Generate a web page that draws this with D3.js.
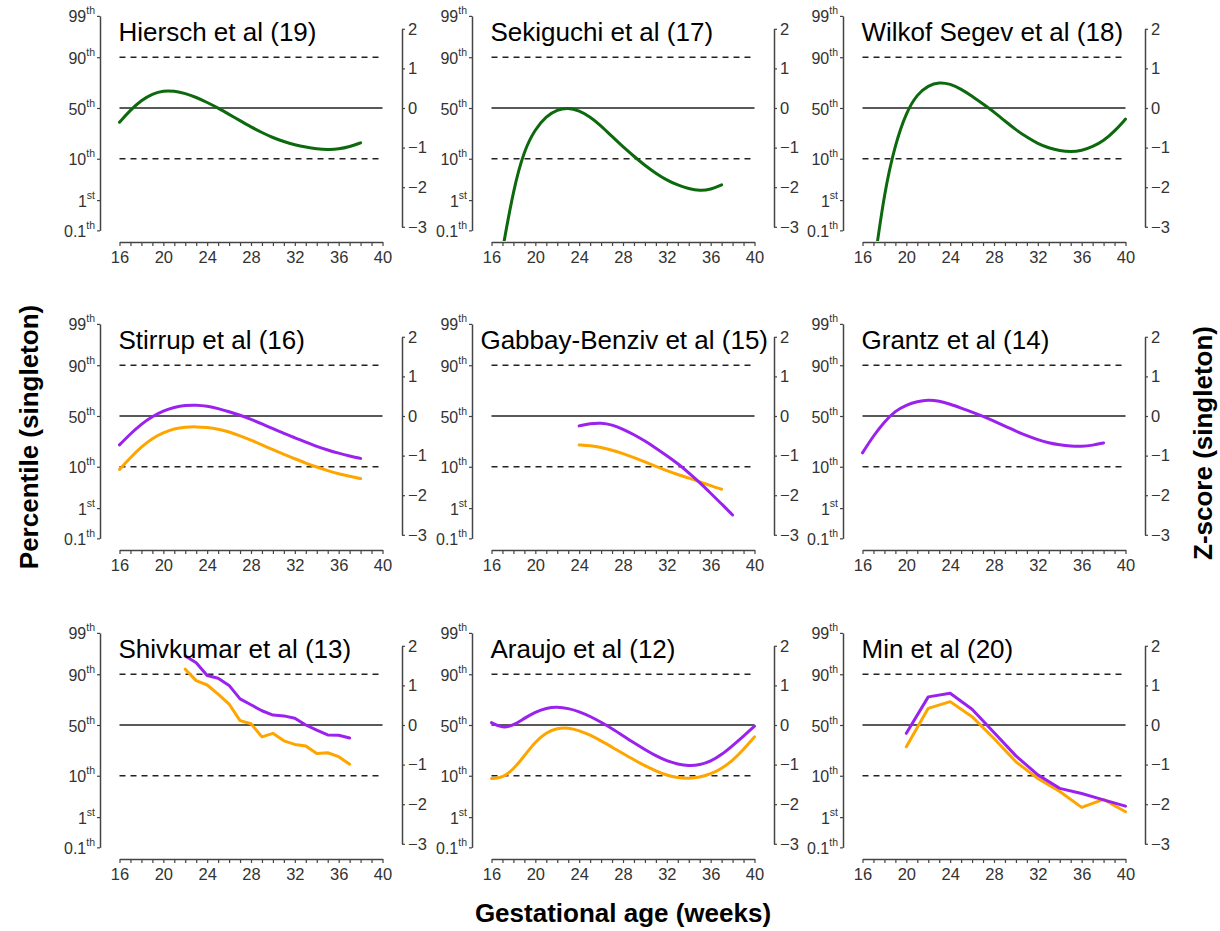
<!DOCTYPE html>
<html>
<head>
<meta charset="utf-8">
<script src="https://cdn.jsdelivr.net/npm/d3@7"></script>
<style>
  body { margin: 0; background: #fff; }
  svg { display: block; font-family: "Liberation Sans", Arial, sans-serif; }
</style>
</head>
<body>
<svg id="chart"></svg>
<script>
const size = { w: 1220, h: 931 };

// panel titles, row by row
const titles = ['Hiersch et al (19)', 'Sekiguchi et al (17)', 'Wilkof Segev et al (18)',
    'Stirrup et al (16)', 'Gabbay-Benziv et al (15)', 'Grantz et al (14)',
    'Shivkumar et al (13)', 'Araujo et al (12)', 'Min et al (20)'];

// gestational weeks
const allWeeks = [16, 17, 18, 19, 20, 21, 22, 23, 24, 25, 26, 27, 28, 29, 30, 31, 32, 33, 34, 35, 36, 37, 38, 39, 40];
const wk16to38 = [16, 17, 18, 19, 20, 21, 22, 23, 24, 25, 26, 27, 28, 29, 30, 31, 32, 33, 34, 35, 36, 37, 38];
const wk17to37 = [17, 18, 19, 20, 21, 22, 23, 24, 25, 26, 27, 28, 29, 30, 31, 32, 33, 34, 35, 36, 37];
const wk17to40 = [17, 18, 19, 20, 21, 22, 23, 24, 25, 26, 27, 28, 29, 30, 31, 32, 33, 34, 35, 36, 37, 38, 39, 40];
const wk24to38 = [24, 25, 26, 27, 28, 29, 30, 31, 32, 33, 34, 35, 36, 37, 38];
const wk24to37 = [24, 25, 26, 27, 28, 29, 30, 31, 32, 33, 34, 35, 36, 37];
const wk22to37 = [22, 23, 24, 25, 26, 27, 28, 29, 30, 31, 32, 33, 34, 35, 36, 37];
const wkEven20to40 = [20, 22, 24, 26, 28, 30, 32, 34, 36, 38, 40];

// z-scores (singleton)
const hierschZ = [-0.36, -0.05, 0.2, 0.36, 0.44, 0.43, 0.37, 0.27, 0.14, 0, -0.16, -0.32, -0.48,
    -0.62, -0.75, -0.85, -0.93, -0.99, -1.03, -1.05, -1.04, -0.98, -0.88];
const sekiguchiZ = [-3.6, -2.05, -1.05, -0.53, -0.2, -0.04, 0.01, -0.07, -0.22, -0.45, -0.72, -0.98,
    -1.22, -1.45, -1.65, -1.82, -1.95, -2.04, -2.09, -2.06, -1.94];
const wilkofZ = [-4.1, -2.1, -0.9, -0.1, 0.35, 0.57, 0.65, 0.61, 0.48, 0.3, 0.1, -0.1, -0.33,
    -0.55, -0.74, -0.9, -1.01, -1.08, -1.11, -1.08, -0.98, -0.83, -0.59, -0.28];
const stirrupPurple = [-0.73, -0.45, -0.2, -0.01, 0.13, 0.22, 0.27, 0.28, 0.25, 0.19, 0.11, 0.02,
    -0.08, -0.2, -0.32, -0.44, -0.55, -0.66, -0.77, -0.86, -0.94, -1.01, -1.07];
const stirrupOrange = [-1.35, -1.05, -0.78, -0.56, -0.42, -0.32, -0.28, -0.27, -0.29, -0.33, -0.4,
    -0.5, -0.61, -0.73, -0.85, -0.97, -1.08, -1.19, -1.29, -1.38, -1.46, -1.52, -1.58];
const gabbayPurple = [-0.25, -0.19, -0.17, -0.22, -0.33, -0.47, -0.63, -0.81, -1.0, -1.2, -1.43,
    -1.68, -1.95, -2.22, -2.5];
const gabbayOrange = [-0.73, -0.75, -0.79, -0.86, -0.95, -1.05, -1.16, -1.27, -1.38, -1.48, -1.57,
    -1.66, -1.76, -1.85];
const grantzPurple = [-0.93, -0.5, -0.14, 0.13, 0.28, 0.37, 0.41, 0.38, 0.3, 0.2, 0.1, -0.01, -0.13,
    -0.26, -0.38, -0.5, -0.6, -0.68, -0.73, -0.76, -0.77, -0.74, -0.68];
const shivkumarPurple = [1.74, 1.57, 1.25, 1.18, 1.0, 0.66, 0.51, 0.36, 0.25, 0.23, 0.17, 0,
    -0.13, -0.25, -0.26, -0.33];
const shivkumarOrange = [1.41, 1.12, 1.01, 0.78, 0.53, 0.11, 0.03, -0.3, -0.21, -0.4, -0.49, -0.53,
    -0.72, -0.7, -0.8, -0.99];
const araujoPurple = [0.06, -0.08, -0.01, 0.17, 0.33, 0.43, 0.46, 0.42, 0.34, 0.22, 0.07, -0.09,
    -0.27, -0.45, -0.62, -0.78, -0.91, -0.99, -1.03, -1.01, -0.92, -0.75, -0.52, -0.28, -0.03];
const araujoOrange = [-1.35, -1.34, -1.12, -0.78, -0.42, -0.19, -0.08, -0.07, -0.14, -0.25, -0.4,
    -0.56, -0.72, -0.88, -1.03, -1.16, -1.27, -1.33, -1.35, -1.32, -1.24, -1.1, -0.9, -0.62, -0.3];
const minPurple = [-0.21, 0.71, 0.8, 0.4, -0.19, -0.78, -1.26, -1.6, -1.73, -1.89, -2.05];
const minOrange = [-0.55, 0.42, 0.59, 0.21, -0.34, -0.93, -1.35, -1.68, -2.08, -1.88, -2.19];

// left axis: percentiles placed at their normal quantiles
const pctLabels = ['99', '90', '50', '10', '1', '0.1'];
const pctSuffix = ['th', 'th', 'th', 'th', 'st', 'th'];
const pctZ = [2.326, 1.2816, 0, -1.2816, -2.326, -3.09];
const zTicks = [-3, -2, -1, 0, 1, 2];
const refLines = [1.2816, 0, -1.2816];

const GREEN = '#0d690d', PURPLE = '#9b22ee', ORANGE = '#ffa500';

const zip = (w, z) => w.map((d, i) => ({ w: d, z: z[i] }));

const panels = [
    { series: [{ pts: zip(wk16to38, hierschZ), col: GREEN }] },
    { series: [{ pts: zip(wk17to37, sekiguchiZ), col: GREEN }] },
    { series: [{ pts: zip(wk17to40, wilkofZ), col: GREEN }] },
    { series: [{ pts: zip(wk16to38, stirrupOrange), col: ORANGE }, { pts: zip(wk16to38, stirrupPurple), col: PURPLE }] },
    { series: [{ pts: zip(wk24to37, gabbayOrange), col: ORANGE }, { pts: zip(wk24to38, gabbayPurple), col: PURPLE }] },
    { series: [{ pts: zip(wk16to38, grantzPurple), col: PURPLE }] },
    { series: [{ pts: zip(wk22to37, shivkumarOrange), col: ORANGE }, { pts: zip(wk22to37, shivkumarPurple), col: PURPLE }], linear: true },
    { series: [{ pts: zip(allWeeks, araujoOrange), col: ORANGE }, { pts: zip(allWeeks, araujoPurple), col: PURPLE }] },
    { series: [{ pts: zip(wkEven20to40, minOrange), col: ORANGE }, { pts: zip(wkEven20to40, minPurple), col: PURPLE }], linear: true }
];

// layout
const colLeft = [100, 472, 843];
const rowZero = [108, 416, 725];
const k = 39.6; // px per z unit

const svg = d3.select('svg#chart')
    .attr('width', size.w)
    .attr('height', size.h);

const defs = svg.append('defs');

panels.forEach((p, i) => {
    const r = Math.floor(i / 3), c = i % 3;
    const left = colLeft[c], y0 = rowZero[r];
    const axisY = y0 + 134;

    const x = d3.scaleLinear().domain([16, 40]).range([left + 19.5, left + 282.5]);
    const yL = d3.scaleLinear().domain([-3.09, 2.326]).range([y0 + 3.09 * k, y0 - 2.326 * k]);
    const yR = d3.scaleLinear().domain([-3, 2]).range([y0 + 3 * k, y0 - 2 * k]);

    const g = svg.append('g').attr('class', 'panel');

    // reference lines at 10th, 50th, 90th
    g.selectAll('line.ref')
        .data(refLines)
        .join('line')
        .attr('class', 'ref')
        .attr('x1', x(16)).attr('x2', x(40))
        .attr('y1', d => yR(d)).attr('y2', d => yR(d))
        .attr('stroke', '#222')
        .attr('stroke-width', 1.4)
        .attr('stroke-dasharray', d => d === 0 ? null : '6,5');

    // x axis
    const xAxis = g.append('g')
        .attr('transform', `translate(0, ${axisY})`)
        .call(d3.axisBottom(x).tickValues(allWeeks).tickSize(4).tickSizeOuter(0).tickPadding(5)
            .tickFormat(d => d % 4 === 0 ? d : ''));

    // left axis (percentiles)
    const lAxis = g.append('g')
        .attr('transform', `translate(${left}, 0)`)
        .call(d3.axisLeft(yL).tickValues(pctZ).tickSize(3).tickSizeOuter(0).tickFormat(''));
    lAxis.selectAll('.tick').each(function (d, j) {
        const t = d3.select(this).append('text')
            .attr('x', -5).attr('y', 6)
            .attr('text-anchor', 'end')
            .attr('fill', '#333')
            .style('font-size', '16px');
        t.append('tspan').text(pctLabels[j]);
        t.append('tspan').attr('dy', -8).style('font-size', '10.5px').text(pctSuffix[j]);
    });

    // right axis (z-score)
    const rAxis = g.append('g')
        .attr('transform', `translate(${left + 302}, 0)`)
        .call(d3.axisRight(yR).tickValues(zTicks).tickSize(3).tickSizeOuter(0).tickPadding(3)
            .tickFormat(d3.format('d')));

    [xAxis, lAxis, rAxis].forEach(a => {
        a.select('.domain').attr('stroke', '#444').attr('stroke-width', 1.5);
        a.selectAll('.tick line').attr('stroke', '#444').attr('stroke-width', 1.2);
        a.selectAll('.tick > text').attr('fill', '#333').style('font-size', '16.5px')
            .style('font-family', '"Liberation Sans", Arial, sans-serif');
    });
    lAxis.selectAll('text').style('font-family', '"Liberation Sans", Arial, sans-serif')
        .style('font-size', '16px');

    // curves, clipped at the x axis
    defs.append('clipPath').attr('id', `clip${i}`)
        .append('rect')
        .attr('x', x(16) - 3).attr('y', y0 - 3 * k)
        .attr('width', x(40) - x(16) + 6)
        .attr('height', axisY - 1 - (y0 - 3 * k));

    const line = d3.line()
        .x(d => x(d.w))
        .y(d => yR(d.z))
        .curve(p.linear ? d3.curveLinear : d3.curveBasis);

    g.append('g')
        .attr('clip-path', `url(#clip${i})`)
        .selectAll('path')
        .data(p.series)
        .join('path')
        .attr('d', d => line(d.pts))
        .attr('fill', 'none')
        .attr('stroke', d => d.col)
        .attr('stroke-width', 3)
        .attr('stroke-linejoin', 'round')
        .attr('stroke-linecap', 'round');

    // title, pulled left if it would run into the right axis
    const title = g.append('text')
        .attr('y', y0 - 67)
        .style('font-size', '26px')
        .attr('fill', '#000')
        .text(titles[i]);
    const tw = title.node().getComputedTextLength();
    title.attr('x', Math.min(x(16) - 1, left + 302 - 6 - tw));
});

// shared axis titles
svg.append('text')
    .attr('transform', 'translate(38, 437) rotate(-90)')
    .attr('text-anchor', 'middle')
    .style('font-size', '26px').style('font-weight', 'bold')
    .text('Percentile (singleton)');

svg.append('text')
    .attr('transform', 'translate(1212, 443) rotate(-90)')
    .attr('text-anchor', 'middle')
    .style('font-size', '26px').style('font-weight', 'bold')
    .text('Z-score (singleton)');

svg.append('text')
    .attr('x', 623).attr('y', 922)
    .attr('text-anchor', 'middle')
    .style('font-size', '26px').style('font-weight', 'bold')
    .text('Gestational age (weeks)');
</script>
</body>
</html>
